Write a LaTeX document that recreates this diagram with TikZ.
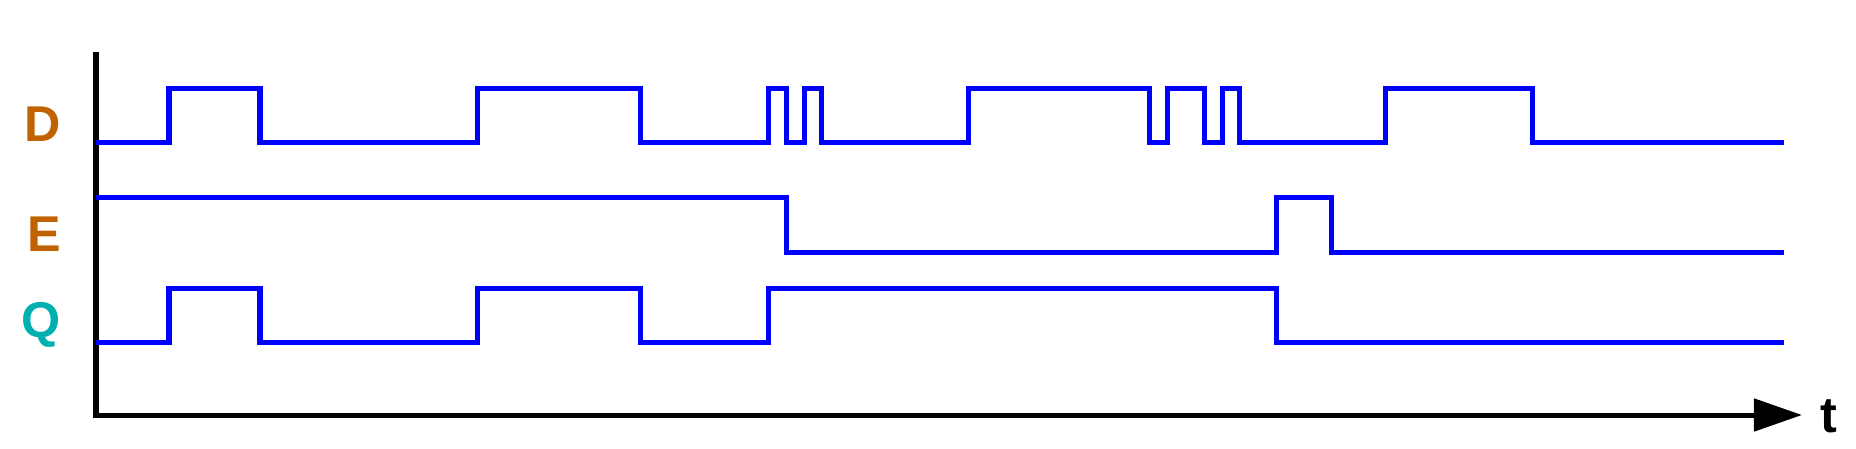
\documentclass[tikz,border=0pt]{standalone}
\usepackage{fontspec}
\setmainfont{Liberation Sans}
\usetikzlibrary{arrows.meta}

\definecolor{labelorange}{RGB}{192,98,0}
\definecolor{labelteal}{RGB}{0,176,176}

\tikzset{
    signal/.style={
      draw=blue,
      line width=0.05cm
    },
    time axis/.style={
      draw=black,
      line width=0.05cm
    },
    signal label/.style={
      font=\fontsize{14.3}{17}\selectfont\bfseries,
      inner sep=0pt
    }
  }

\begin{document}
\begin{tikzpicture}[x=0.01cm,y=-0.01cm]
      \useasboundingbox (0,0) rectangle (1856,448);

      % Achsen
      \coordinate (origin) at (96,415);
      \coordinate (ytop) at (96,52);
      \coordinate (tend) at (1802,415);
      \draw[time axis, -{Triangle[length=0.48cm,width=0.32cm]}] (ytop) -- (origin) -- (tend);

      % D
      \draw[signal] (96,142) -| (169,88) -| (260,142) -| (477,88) -| (640,142)
        -| (768,88) -| (786,142) -| (804,88) -| (821,142) -| (968,88)
        -| (1149,142) -| (1167,88) -| (1204,142) -| (1222,88) -| (1239,142)
        -| (1385,88) -| (1532,142) -- (1784,142);

      % E
      \draw[signal] (96,197) -| (786,252) -| (1276,197) -| (1331,252) -- (1784,252);

      % Q
      \draw[signal] (96,342) -| (169,288) -| (260,342) -| (477,288) -| (640,342)
        -| (768,288) -| (1276,342) -- (1784,342);

      % Beschriftung
      \node[signal label, text=labelorange] (labD) at (43,124.5) {D};
      \node[signal label, text=labelorange] (labE) at (44.5,234) {E};
      \node[signal label, text=labelteal] (labQ) at (41.5,325) {Q};
      \node[signal label] (labt) at (1828.5,416.5) {t};
    \end{tikzpicture}
\end{document}
